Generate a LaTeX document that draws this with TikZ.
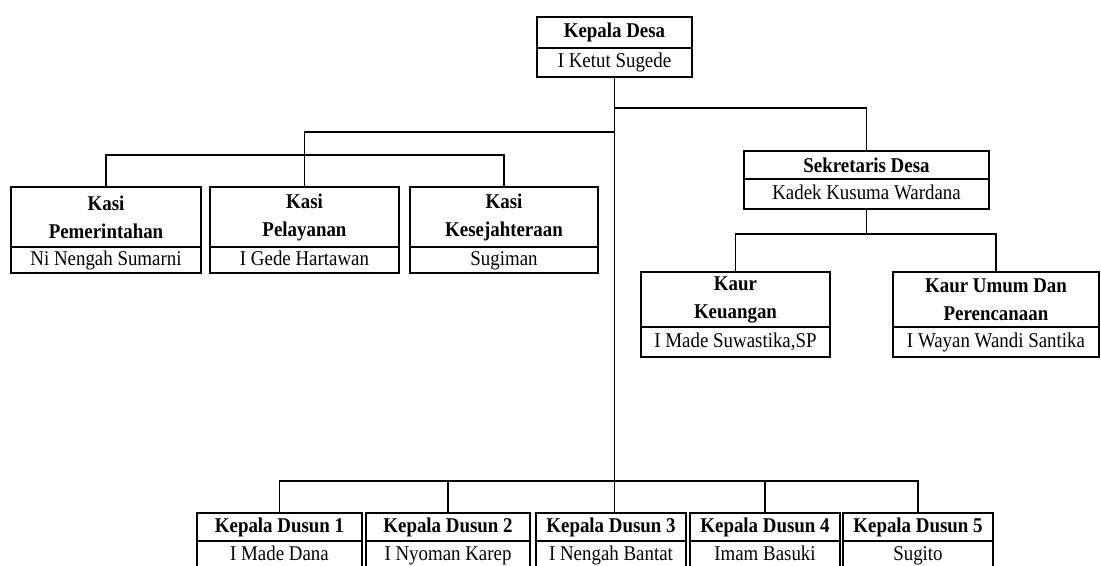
\documentclass[tikz,border=0pt]{standalone}
\usepackage{fontspec}
\setmainfont[FakeStretch=0.9]{Liberation Serif}
\usetikzlibrary{positioning}

\tikzset{
    judul/.style={draw, line width=1.4pt, inner sep=0pt, outer sep=0pt, align=center,
        font=\fontsize{12.6}{16.8}\selectfont\bfseries},
    nama/.style={draw, line width=1.4pt, inner sep=0pt, outer sep=0pt,
        text height=8.6pt, text depth=2.6pt, font=\fontsize{12.6}{16.8}\selectfont},
    garis/.style={line width=1pt}
}

\begin{document}
\begin{tikzpicture}[x=0.6pt,y=-0.6pt]
    \useasboundingbox (0,0) rectangle (1101,565);
    % kepala desa
    \node[judul, minimum width=93pt, minimum height=18.6pt] at (614.5,32.5) (kades) {Kepala Desa};
    \node[nama, minimum width=93pt, minimum height=17.4pt, below=0pt of kades] (kadesn) {I Ketut Sugede};
    % kasi
    \node[judul, minimum width=114pt, minimum height=36pt] at (106,217) (kasi1) {Kasi\\Pemerintahan};
    \node[nama, minimum width=114pt, minimum height=15.6pt, below=0pt of kasi1] (kasi1n) {Ni Nengah Sumarni};
    \node[judul, minimum width=113.4pt, minimum height=36pt] at (304.5,217) (kasi2) {Kasi\\Pelayanan};
    \node[nama, minimum width=113.4pt, minimum height=15.6pt, below=0pt of kasi2] (kasi2n) {I Gede Hartawan};
    \node[judul, minimum width=112.8pt, minimum height=36pt] at (504,217) (kasi3) {Kasi\\Kesejahteraan};
    \node[nama, minimum width=112.8pt, minimum height=15.6pt, below=0pt of kasi3] (kasi3n) {Sugiman};
    % sekretaris dan kaur
    \node[judul, minimum width=147pt, minimum height=16.8pt] at (866.5,165) (sekdes) {Sekretaris Desa};
    \node[nama, minimum width=147pt, minimum height=18pt, below=0pt of sekdes] (sekdesn) {Kadek Kusuma Wardana};
    \node[judul, minimum width=113.4pt, minimum height=33pt] at (735.5,299.5) (kaur1) {Kaur\\Keuangan};
    \node[nama, minimum width=113.4pt, minimum height=18pt, below=0pt of kaur1] (kaur1n) {I Made Suwastika,SP};
    \node[judul, minimum width=123.6pt, minimum height=33pt] at (996,299.5) (kaur2) {Kaur Umum Dan\\Perencanaan};
    \node[nama, minimum width=123.6pt, minimum height=18pt, below=0pt of kaur2] (kaur2n) {I Wayan Wandi Santika};
    % kepala dusun
    \node[judul, minimum width=99pt, minimum height=16.8pt] at (279.5,527) (kadus1) {Kepala Dusun 1};
    \node[nama, minimum width=99pt, minimum height=17.4pt, below=0pt of kadus1] (kadus1n) {I Made Dana};
    \node[judul, minimum width=98.4pt, minimum height=16.8pt] at (448,527) (kadus2) {Kepala Dusun 2};
    \node[nama, minimum width=98.4pt, minimum height=17.4pt, below=0pt of kadus2] (kadus2n) {I Nyoman Karep};
    \node[judul, minimum width=90pt, minimum height=16.8pt] at (611,527) (kadus3) {Kepala Dusun 3};
    \node[nama, minimum width=90pt, minimum height=17.4pt, below=0pt of kadus3] (kadus3n) {I Nengah Bantat};
    \node[judul, minimum width=90pt, minimum height=16.8pt] at (765,527) (kadus4) {Kepala Dusun 4};
    \node[nama, minimum width=90pt, minimum height=17.4pt, below=0pt of kadus4] (kadus4n) {Imam Basuki};
    \node[judul, minimum width=90pt, minimum height=16.8pt] at (918,527) (kadus5) {Kepala Dusun 5};
    \node[nama, minimum width=90pt, minimum height=17.4pt, below=0pt of kadus5] (kadus5n) {Sugito};

    \draw[garis] (kadesn.south)--(kadesn.south |- kadus3.north)
        (kadesn.south) ++(0,31) -| (sekdes.north)
        (kadesn.south) ++(0,55) -| (kasi2.north)
        (kasi1.north)--++(0,-32) -| (kasi3.north)
        (sekdesn.south)--++(0,25) coordinate (bussek)
        (kaur1.north) |- (bussek) -| (kaur2.north)
        (kadus1.north)--++(0,-32) -| (kadus5.north)
        (kadus2.north)--++(0,-32)
        (kadus4.north)--++(0,-32)
        ;
\end{tikzpicture}
\end{document}
